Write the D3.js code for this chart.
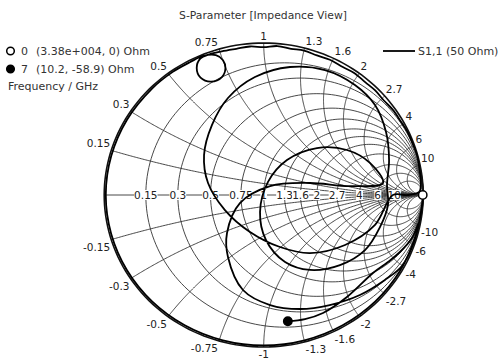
<!DOCTYPE html>
<html><head><meta charset="utf-8">
<script src="https://cdn.jsdelivr.net/npm/d3@7"></script>
<style>body{margin:0;background:#fff}svg{display:block}text{font-family:"DejaVu Sans",sans-serif}</style>
</head><body><svg id="c" width="498" height="360"></svg>
<script>
const title = "S-Parameter [Impedance View]";
const resistanceTicks = [0.15,0.3,0.5,0.75,1,1.3,1.6,2,2.7,4,6,10];
const reactanceTicks = [0.15,0.3,0.5,0.75,1,1.3,1.6,2,2.7,4,6,10];
const seriesName = "S1,1 (50 Ohm)";
const z0 = 50;
const markerIds = ["0","7"];
const markerR = [33800, 10.2];
const markerX = [0, -58.9];
const markerText = ["(3.38e+004, 0) Ohm","(10.2, -58.9) Ohm"];
const axisTitle = "Frequency / GHz";
const traceRe = [1.0,0.985,0.956,0.857,0.700,0.495,0.256,0.0,-0.256,-0.495,-0.700,-0.857,-0.956,-0.99,-0.956,-0.857,-0.70,-0.57,-0.46,-0.38,
 -0.30,-0.255,-0.24,-0.262,-0.33,-0.396,-0.42,-0.398,-0.34,
 -0.263,-0.172,-0.086,0.0,0.086,0.172,0.253,0.334,0.415,0.496,0.567,0.638,0.699,0.755,0.81,0.861,0.9,0.937,0.962,0.977,0.985,0.975,0.9,
 0.81,0.698,0.51,0.29,0.102,-0.086,-0.243,-0.349,-0.374,-0.324,-0.224,-0.055,0.165,0.384,0.572,0.698,0.767,0.786,0.773,
 0.779,0.729,0.635,0.478,0.29,0.134,0.014,-0.023,0.027,0.146,0.334,0.522,0.666,0.748,
 0.539,0.29,0.04,-0.149,-0.23,-0.224,-0.13,0.04,0.228,0.414,0.603,0.76,0.867,0.936,0.974,0.93,0.854,0.779,0.685,0.522,0.372,0.259,0.152];
const traceIm = [0.0,-0.12,-0.256,-0.495,-0.700,-0.857,-0.956,-0.99,-0.956,-0.857,-0.700,-0.495,-0.256,0.0,0.256,0.495,0.70,0.81,0.875,0.915,
 0.92,0.887,0.836,0.776,0.746,0.772,0.836,0.897,0.926,
 0.945,0.962,0.977,0.973,0.98,0.962,0.95,0.918,0.89,0.842,0.803,0.741,0.688,0.62,0.56,0.482,0.418,0.33,0.258,0.168,0.09,0.02,0.0,
 0.0,-0.197,-0.329,-0.382,-0.342,-0.243,-0.099,0.079,0.263,0.461,0.638,0.776,0.842,0.822,0.724,0.592,0.414,0.23,0.066,
 -0.066,-0.211,-0.362,-0.461,-0.493,-0.441,-0.296,-0.112,0.086,0.23,0.309,0.296,0.211,0.079,
 0.059,0.079,0.059,-0.053,-0.25,-0.408,-0.625,-0.724,-0.75,-0.724,-0.658,-0.559,-0.467,-0.329,-0.178,-0.283,-0.375,-0.441,-0.513,-0.671,-0.776,-0.816,-0.830];

const svg = d3.select("#c");
const sx = d3.scaleLinear().domain([-1,1]).range([104.2,423.2]);
const sy = d3.scaleLinear().domain([-1,1]).range([347,43]);
const gridColor = "#333";
const textColor = "#222";

function gamma(r, x){ // normalized z -> reflection
  const dr = r + 1, nr = r - 1;
  const den = dr*dr + x*x;
  return [(nr*dr + x*x)/den, (x*dr - nr*x)/den];
}
const toPix = g => [sx(g[0]), sy(g[1])];
const line = d3.line();

const gGrid = svg.append("g");
resistanceTicks.forEach(r => {
  const c = r/(1+r), rad = 1/(1+r);
  const pts = d3.range(0, 361, 2).map(a => {
    const t = a*Math.PI/180; return toPix([c + rad*Math.cos(t), rad*Math.sin(t)]);
  });
  gGrid.append("path").attr("d", line(pts)).attr("fill","none").attr("stroke",gridColor).attr("stroke-width",0.9);
});
const rs = d3.range(0, 1.0001, 0.005).map(u => u >= 1 ? 1e6 : u/(1-u));
reactanceTicks.forEach(xv => {
  [xv, -xv].forEach(x => {
    const pts = rs.map(r => toPix(gamma(r, x)));
    gGrid.append("path").attr("d", line(pts)).attr("fill","none").attr("stroke",gridColor).attr("stroke-width",0.9);
  });
});
gGrid.append("line").attr("x1",sx(-1)).attr("x2",sx(1)).attr("y1",sy(0)).attr("y2",sy(0)).attr("stroke",gridColor).attr("stroke-width",0.9);
const outer = d3.range(0,361,2).map(a => {const t=a*Math.PI/180; return toPix([Math.cos(t),Math.sin(t)]);});
svg.append("path").attr("d", line(outer)).attr("fill","none").attr("stroke","#111").attr("stroke-width",1.6);

const gLab = svg.append("g").attr("font-size",10.5).attr("fill",textColor);
resistanceTicks.forEach(r => {
  const gx = sx((r-1)/(r+1)), gy = sy(0);
  const t = gLab.append("text").attr("x",gx).attr("y",gy+4).attr("text-anchor","middle").text(String(r));
  const bb = t.node().getBBox();
  gLab.insert("rect", () => t.node()).attr("x",bb.x).attr("y",bb.y+1).attr("width",bb.width).attr("height",bb.height-2).attr("fill","#fff");
});
reactanceTicks.forEach(xv => {
  [xv,-xv].forEach(x => {
    const g = gamma(0, x);
    const px = sx(g[0]), py = sy(g[1]);
    let anchor = Math.abs(g[0]) < 0.05 ? "middle" : (g[0] > 0 ? "start" : "end");
    const dy = x > 0 ? -3 : 11;
    gLab.append("text").attr("x",px + (anchor==="start"?1:anchor==="end"?-1:0)).attr("y",py+dy).attr("text-anchor",anchor)
      .text(x < 0 ? "-" + xv : String(xv));
  });
});

const trace = traceRe.map((v,i) => toPix([v, traceIm[i]]));
svg.append("path").attr("d", d3.line().curve(d3.curveCatmullRom.alpha(0.5))(trace))
  .attr("fill","none").attr("stroke","#000").attr("stroke-width",1.8).attr("stroke-linejoin","round");

markerR.forEach((R,i) => {
  const g = gamma(R/z0, markerX[i]/z0);
  svg.append("circle").attr("cx",sx(g[0])).attr("cy",sy(g[1])).attr("r",4.2)
    .attr("fill", i===0 ? "#fff" : "#000").attr("stroke","#000").attr("stroke-width",1.5);
});

svg.append("text").attr("x",263).attr("y",19).attr("text-anchor","middle").attr("font-size",10.8).attr("fill","#333").text(title);
const gL = svg.append("g").attr("font-size",11).attr("fill","#333");
markerIds.forEach((id,i) => {
  const y = 51 + i*18;
  gL.append("circle").attr("cx",10.5).attr("cy",y).attr("r",3.8).attr("fill", i===0?"#fff":"#000").attr("stroke","#000").attr("stroke-width",1.5);
  gL.append("text").attr("x",21).attr("y",y+4).text(id);
  gL.append("text").attr("x",36).attr("y",y+4).text(markerText[i]);
});
gL.append("text").attr("x",8).attr("y",90).text(axisTitle);
svg.append("line").attr("x1",383).attr("x2",415).attr("y1",51).attr("y2",51).attr("stroke","#000").attr("stroke-width",1.8);
svg.append("text").attr("x",418).attr("y",55).attr("font-size",11).attr("fill","#333").text(seriesName);
</script></body></html>
